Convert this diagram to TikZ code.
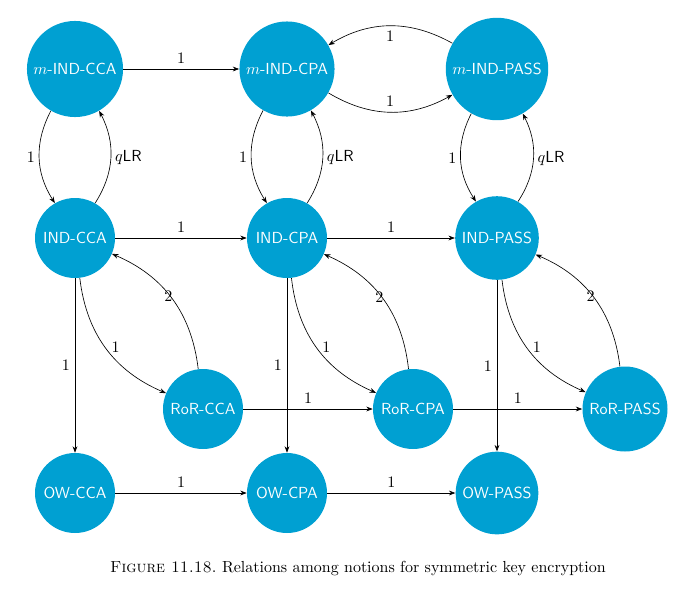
\documentclass[tikz,border=0pt]{standalone}
\usetikzlibrary{arrows.meta}
\definecolor{nodeblue}{RGB}{0,160,210}
\begin{document}
\begin{tikzpicture}[x=0.625pt,y=-0.625pt,
  notion/.style={circle,fill=nodeblue,text=white,font=\sffamily,minimum size=50pt,inner sep=3.33pt},
  rel/.style={-{Stealth[length=4pt,width=3pt]},line width=0.4pt},
  lbl/.style={inner sep=3pt}]
\useasboundingbox (0,0) rectangle (687,596);
% nodes
\node[notion] (mcca) at (75,69) {$m$-IND-CCA};
\node[notion] (mcpa) at (287,69) {$m$-IND-CPA};
\node[notion] (mpass) at (497,69) {$m$-IND-PASS};
\node[notion] (cca) at (75,238) {IND-CCA};
\node[notion] (cpa) at (287,238) {IND-CPA};
\node[notion] (pass) at (497,238) {IND-PASS};
\node[notion] (rcca) at (203,409) {RoR-CCA};
\node[notion] (rcpa) at (413,409) {RoR-CPA};
\node[notion] (rpass) at (625,409) {RoR-PASS};
\node[notion] (occa) at (75,493) {OW-CCA};
\node[notion] (ocpa) at (287,493) {OW-CPA};
\node[notion] (opass) at (497,493) {OW-PASS};
% top row
\draw[rel] (mcca) -- node[lbl,above] {1} (mcpa);
\draw[rel] (mcpa) to[bend right=30] node[lbl,above] {1} (mpass);
\draw[rel] (mpass) to[bend right=30] node[lbl,below] {1} (mcpa);
% vertical loops
\foreach \m/\i in {mcca/cca,mcpa/cpa,mpass/pass}{
  \draw[rel] (\m) to[bend right=30] node[lbl,left,inner sep=2.5pt] {1} (\i);
  \draw[rel] (\i) to[bend right=30] node[lbl,right,inner sep=2.5pt] {$q$\textsf{LR}} (\m);
}
% IND row
\draw[rel] (cca) -- node[lbl,above] {1} (cpa);
\draw[rel] (cpa) -- node[lbl,above] {1} (pass);
% IND <-> RoR
\foreach \i/\r in {cca/rcca,cpa/rcpa,pass/rpass}{
  \draw[rel] (\i) to[bend right=30] node[lbl,pos=0.55,above right,inner sep=0.5pt] {1} (\r);
  \draw[rel] (\r) to[bend right=30] node[lbl,pos=0.52,left,inner sep=-1.5pt] {2} (\i);
}
% IND -> OW
\foreach \i/\o in {cca/occa,cpa/ocpa,pass/opass}{
  \draw[rel] (\i) -- node[lbl,left] {1} (\o);
}
% RoR row
\draw[rel] (rcca) -- node[lbl,above] {1} (rcpa);
\draw[rel] (rcpa) -- node[lbl,above] {1} (rpass);
% OW row
\draw[rel] (occa) -- node[lbl,above] {1} (ocpa);
\draw[rel] (ocpa) -- node[lbl,above] {1} (opass);
% caption
\node (cap) at (358,568) {\textsc{Figure 11.18.}\ Relations among notions for symmetric key encryption};
\end{tikzpicture}
\end{document}
